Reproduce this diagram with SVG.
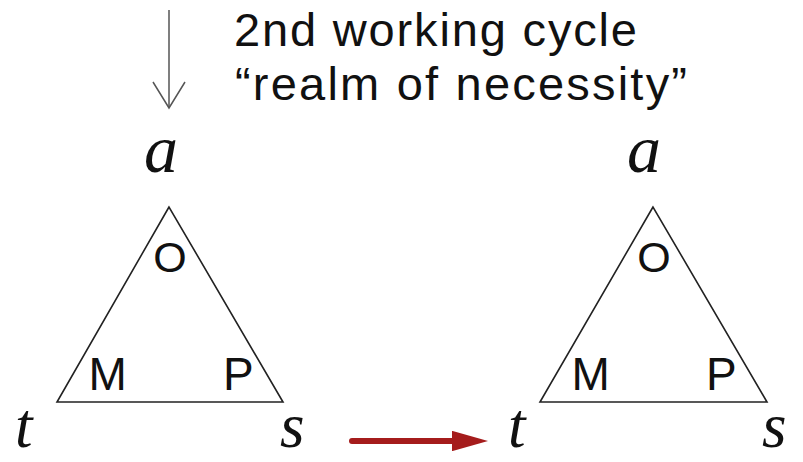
<svg xmlns="http://www.w3.org/2000/svg" width="803" height="462" viewBox="0 0 803 462">
<style>
.title{font-family:"Liberation Sans",Arial,sans-serif;font-size:47px;fill:#111}
.var{font-family:"Liberation Serif","Times New Roman",serif;font-style:italic;font-size:68px;fill:#111}
.vb{font-family:"Liberation Serif","Times New Roman",serif;font-style:italic;font-size:63px;fill:#111}
.lbl{font-family:"Liberation Sans",Arial,sans-serif;font-size:46px;fill:#111}
.lblo{font-family:"Liberation Sans",Arial,sans-serif;font-size:43px;fill:#111}
.tri{fill:none;stroke:#222;stroke-width:1.6;stroke-linejoin:miter}
</style>
<defs>
<marker id="redhead" markerWidth="6" markerHeight="3.4" refX="0" refY="1.7" orient="auto" markerUnits="strokeWidth">
<path d="M0,0 L6,1.7 L0,3.4 Z" fill="#a51c1c"/>
</marker>
</defs>
<rect width="803" height="462" fill="#fff"/>
<text class="title" x="234" y="46" textLength="403" lengthAdjust="spacing">2nd working cycle</text>
<text class="title" x="235" y="100" textLength="452" lengthAdjust="spacing">“realm of necessity”</text>
<g id="triangle-left">
<polygon class="tri" points="169,207 57,402 283,402"/>
<text class="lblo" x="170" y="272" text-anchor="middle">O</text>
<text class="lbl" x="88.5" y="390">M</text>
<text class="lbl" x="223" y="390">P</text>
<text class="var" x="144" y="172">a</text>
<text class="vb" x="15" y="447">t</text>
<text class="vb" x="280" y="447">s</text>
</g>
<g id="triangle-right">
<polygon class="tri" points="653,207 540,402 767,402"/>
<text class="lblo" x="654" y="272" text-anchor="middle">O</text>
<text class="lbl" x="571.5" y="390">M</text>
<text class="lbl" x="706" y="390">P</text>
<text class="var" x="627" y="172">a</text>
<text class="vb" x="508" y="447">t</text>
<text class="vb" x="762" y="447">s</text>
</g>
<g id="connectors">
<line x1="169" y1="10" x2="169" y2="107" stroke="#555" stroke-width="1.5"/>
<polyline points="153,82 169,108 185,82" fill="none" stroke="#555" stroke-width="1.5"/>
<line x1="352" y1="441" x2="452" y2="441" stroke="#a51c1c" stroke-width="6" stroke-linecap="round" marker-end="url(#redhead)"/>
</g>
</svg>
